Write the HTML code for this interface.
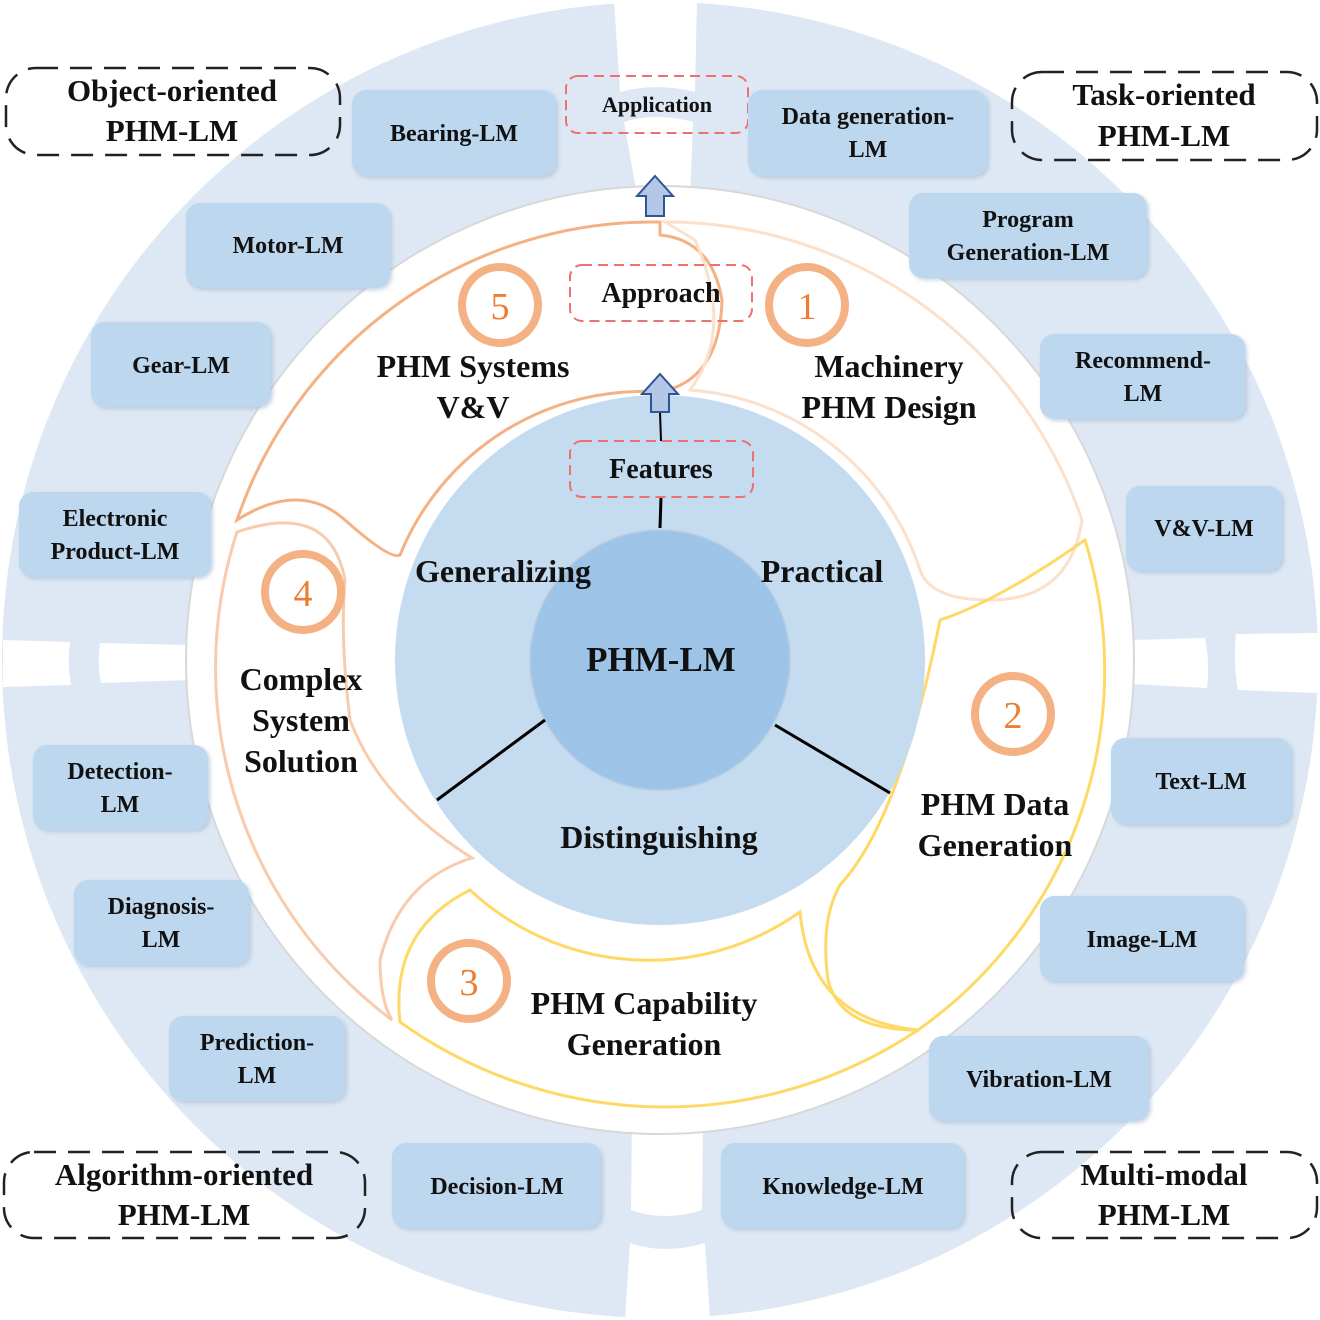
<!DOCTYPE html>
<html><head><meta charset="utf-8"><style>
html,body{margin:0;padding:0;background:#fff}
svg{display:block}
text{font-family:"Liberation Serif",serif;font-weight:bold;fill:#111}
.b{fill:#bdd7ee}
.bl{font-size:24px;text-anchor:middle}
.big{font-size:32px;text-anchor:middle}
.dl{font-size:31px;text-anchor:middle}
.num{font-size:38px;fill:#ed7d31;font-weight:normal;text-anchor:middle}
</style></head><body>
<svg width="1320" height="1320" viewBox="0 0 1320 1320" xmlns="http://www.w3.org/2000/svg">
<defs><filter id="sh" x="-10%" y="-10%" width="130%" height="130%"><feDropShadow dx="2" dy="2" stdDeviation="2" flood-color="#9fb6cf" flood-opacity="0.6"/></filter></defs>
<circle cx="660" cy="660" r="658" fill="#dde8f4"/>
<!-- gaps -->
<path d="M614 0 L697 0 L695 92 Q657 82 620 92 Z" fill="#fff"/>
<path d="M624 122 Q657 112 693 122 L690 200 L638 200 Z" fill="#fff"/>
<path d="M632 1120 L703 1120 L702 1210 Q665 1222 631 1210 Z" fill="#fff"/>
<path d="M630 1243 Q665 1255 705 1243 L710 1320 L625 1320 Z" fill="#fff"/>
<path d="M3 640 L70 642 Q67 664 71 685 L3 687 Z" fill="#fff"/>
<path d="M100 643 L190 645 L190 680 L101 683 Q97 664 100 643 Z" fill="#fff"/>
<path d="M1132 640 L1205 638 Q1210 664 1207 688 L1132 684 Z" fill="#fff"/>
<path d="M1236 634 L1318 633 L1318 693 L1238 690 Q1233 662 1236 634 Z" fill="#fff"/>
<circle cx="660" cy="660" r="474" fill="#fff" stroke="#d8d8d8" stroke-width="2"/>
<!-- swirl segments -->
<g fill="none" stroke-width="3">
<path d="M660 222 A440 440 0 0 0 237 520 Q300 480 345 520 Q390 560 400 555 A262 262 0 0 1 660 392 Q720 380 722 300 Q712 240 660 235 Z" stroke="#f4b183"/>
<path d="M665 222 A440 440 0 0 1 1082 520 Q1070 600 990 600 Q930 600 920 570 A262 262 0 0 0 690 390 Q735 330 695 240 Z" stroke="#fbe0cc"/>
<path d="M1085 540 A440 440 0 0 1 918 1030 Q840 1030 828 980 Q820 920 840 885 Q900 820 940 620 Q1000 600 1085 540 Z" stroke="#ffd966"/>
<path d="M918 1030 A455 455 0 0 1 400 1022 Q390 930 470 890 A262 262 0 0 0 800 912 Q810 1020 918 1030 Z" stroke="#ffd966"/>
<path d="M392 1020 A440 440 0 0 1 237 532 Q330 500 345 580 Q340 640 350 720 Q380 800 472 858 Q400 880 380 960 Q380 1000 392 1020 Z" stroke="#f8cbad"/>
</g>
<circle cx="660" cy="660" r="265" fill="#c5dbef"/>
<circle cx="660" cy="660" r="130" fill="#9dc3e6" stroke="#b8cde2" stroke-width="1.5"/>
<g stroke="#000" stroke-width="3"><line x1="545" y1="720" x2="437" y2="800"/><line x1="775" y1="725" x2="890" y2="793"/><line x1="660" y1="528" x2="661" y2="497"/><line x1="660" y1="412" x2="661" y2="441" stroke-width="2"/></g>
<!-- arrows -->
<g fill="#b4c7e7" stroke="#2f5597" stroke-width="2">
<path d="M655 176 L673 196 L664 196 L664 216 L646 216 L646 196 L637 196 Z"/>
<path d="M660 374 L678 394 L669 394 L669 412 L651 412 L651 394 L642 394 Z"/>
</g>
<!-- red dashed -->
<g fill="none" stroke="#f07070" stroke-width="2" stroke-dasharray="10,6">
<rect x="566" y="76" width="182" height="57" rx="12"/>
<rect x="570" y="265" width="182" height="56" rx="12"/>
<rect x="570" y="441" width="183" height="56" rx="12"/>
</g>
<text x="657" y="112" class="bl" style="font-size:22px">Application</text>
<text x="661" y="302" class="bl" style="font-size:28px">Approach</text>
<text x="661" y="478" class="bl" style="font-size:28px">Features</text>
<!-- number circles -->
<g fill="none" stroke="#f4b183" stroke-width="8">
<circle cx="500" cy="305" r="38"/><circle cx="807" cy="305" r="38"/><circle cx="303" cy="592" r="38"/><circle cx="1013" cy="714" r="38"/><circle cx="469" cy="981" r="38"/>
</g>
<text x="500" y="319" class="num">5</text><text x="807" y="319" class="num">1</text><text x="303" y="606" class="num">4</text><text x="1013" y="728" class="num">2</text><text x="469" y="995" class="num">3</text>
<!-- central text -->
<text x="661" y="671" class="big" style="font-size:35px">PHM-LM</text>
<text x="503" y="582" class="big">Generalizing</text>
<text x="822" y="582" class="big">Practical</text>
<text x="659" y="848" class="big">Distinguishing</text>
<text x="473" y="377" class="big">PHM Systems</text><text x="473" y="418" class="big">V&amp;V</text>
<text x="889" y="377" class="big">Machinery</text><text x="889" y="418" class="big">PHM Design</text>
<text x="301" y="690" class="big">Complex</text><text x="301" y="731" class="big">System</text><text x="301" y="772" class="big">Solution</text>
<text x="995" y="815" class="big">PHM Data</text><text x="995" y="856" class="big">Generation</text>
<text x="644" y="1014" class="big">PHM Capability</text><text x="644" y="1055" class="big">Generation</text>
<!-- boxes -->
<g class="b" filter="url(#sh)">
<rect x="352" y="90" width="204" height="86" rx="14"/>
<rect x="748" y="90" width="239" height="86" rx="14"/>
<rect x="186" y="203" width="204" height="85" rx="14"/>
<rect x="909" y="193" width="238" height="85" rx="14"/>
<rect x="91" y="322" width="180" height="85" rx="14"/>
<rect x="1040" y="334" width="205" height="85" rx="14"/>
<rect x="19" y="492" width="192" height="85" rx="14"/>
<rect x="1126" y="486" width="156" height="85" rx="14"/>
<rect x="33" y="745" width="175" height="85" rx="14"/>
<rect x="1111" y="738" width="180" height="86" rx="14"/>
<rect x="74" y="880" width="175" height="85" rx="14"/>
<rect x="1040" y="896" width="204" height="85" rx="14"/>
<rect x="169" y="1016" width="176" height="85" rx="14"/>
<rect x="929" y="1036" width="220" height="85" rx="14"/>
<rect x="392" y="1143" width="209" height="85" rx="14"/>
<rect x="721" y="1143" width="243" height="85" rx="14"/>
</g>
<g class="bl">
<text x="454" y="141">Bearing-LM</text>
<text x="868" y="124">Data generation-</text><text x="868" y="157">LM</text>
<text x="288" y="253">Motor-LM</text>
<text x="1028" y="227">Program</text><text x="1028" y="260">Generation-LM</text>
<text x="181" y="373">Gear-LM</text>
<text x="1143" y="368">Recommend-</text><text x="1143" y="401">LM</text>
<text x="115" y="526">Electronic</text><text x="115" y="559">Product-LM</text>
<text x="1204" y="536">V&amp;V-LM</text>
<text x="120" y="779">Detection-</text><text x="120" y="812">LM</text>
<text x="1201" y="789">Text-LM</text>
<text x="161" y="914">Diagnosis-</text><text x="161" y="947">LM</text>
<text x="1142" y="947">Image-LM</text>
<text x="257" y="1050">Prediction-</text><text x="257" y="1083">LM</text>
<text x="1039" y="1087">Vibration-LM</text>
<text x="497" y="1194">Decision-LM</text>
<text x="843" y="1194">Knowledge-LM</text>
</g>
<!-- black dashed -->
<g fill="none" stroke="#222" stroke-width="2.5" stroke-dasharray="22,12">
<rect x="6" y="68" width="334" height="87" rx="30"/>
<rect x="1012" y="72" width="305" height="88" rx="30"/>
<rect x="4" y="1152" width="361" height="86" rx="30"/>
<rect x="1012" y="1152" width="305" height="86" rx="30"/>
</g>
<g class="dl">
<text x="172" y="101">Object-oriented</text><text x="172" y="141">PHM-LM</text>
<text x="1164" y="105">Task-oriented</text><text x="1164" y="146">PHM-LM</text>
<text x="184" y="1185">Algorithm-oriented</text><text x="184" y="1225">PHM-LM</text>
<text x="1164" y="1185">Multi-modal</text><text x="1164" y="1225">PHM-LM</text>
</g>
</svg>
</body></html>
